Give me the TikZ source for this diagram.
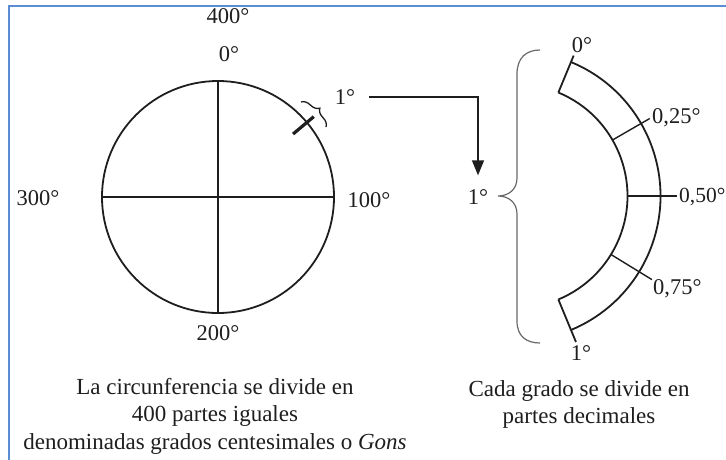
\documentclass[tikz,border=0pt]{standalone}
\usepackage{fontspec}
\setmainfont{Liberation Serif}
\usetikzlibrary{arrows.meta,decorations.pathreplacing}
\definecolor{frameblue}{RGB}{91,141,212}
\definecolor{bracegray}{RGB}{105,105,105}
\definecolor{inkgray}{RGB}{30,30,30}
\begin{document}
\begin{tikzpicture}[x=1pt,y=1pt,
  lbl/.style={inner sep=0pt, text=inkgray, font=\fontsize{22.5}{27}\selectfont},
  captext/.style={inner sep=0pt, align=center, text=inkgray, font=\fontsize{23}{27.5}\selectfont},
  thick line/.style={line width=1.8pt, draw=inkgray},
  thin line/.style={line width=1.4pt, draw=inkgray},
  ]
\useasboundingbox (0,0) rectangle (726,-459);
\fill[white] (0,0) rectangle (726,-459);
\draw[frameblue, line width=2pt] (9,-6) rectangle (745,-475);

% circle
\coordinate (O) at (218,-197);
\draw[thick line] (O) circle[radius=116];
\draw[thin line] ([xshift=-116pt]O) -- ([xshift=116pt]O);
\draw[thin line] ([yshift=115pt]O) -- ([yshift=-115pt]O);
\draw[line width=3.2pt, draw=inkgray] ([shift={(40:98)}]O) -- ([shift={(40:125)}]O);
\draw[line width=1.3pt, draw=inkgray, decorate, decoration={brace, amplitude=9pt}] (301,-102) -- (326,-127);

\node[lbl] (l400) at (228,-16) {400°};
\node[lbl] (l0) at (229,-54) {0°};
\node[lbl] (l300) at (38,-198) {300°};
\node[lbl] (l100) at (369,-200) {100°};
\node[lbl] (l200) at (218,-333) {200°};
\node[lbl] (l1a) at (345,-97) {1°};
\node[lbl] (l1b) at (478,-197) {1°};

\draw[thin line, -{Triangle[width=12pt,length=15pt]}] ([xshift=14pt]l1a.east) -| ([yshift=14pt]l1b.north);

% big brace
\draw[bracegray, line width=1.2pt] (540,-50) .. controls (526,-50) and (517,-58) .. (517,-74)
  -- (517,-178) .. controls (517,-190) and (508,-196) .. (498,-196)
  .. controls (508,-196) and (517,-202) .. (517,-214)
  -- (517,-321) .. controls (517,-336) and (526,-343) .. (540,-343);

% band
\coordinate (C) at (515.5,-196);
\draw[thick line] ([shift={(67.5:145)}]C) arc[start angle=67.5, end angle=-67.5, radius=145];
\draw[thick line] ([shift={(67.5:112)}]C) arc[start angle=67.5, end angle=-67.5, radius=112];
\draw[thick line] ([shift={(67.5:112)}]C) -- ([shift={(67.5:152)}]C);
\draw[thick line] ([shift={(-67.5:112)}]C) -- ([shift={(-67.5:158)}]C);
\draw[thin line] ([shift={(30:112)}]C) -- ([shift={(30:155)}]C);
\draw[thin line] ([shift={(0:112)}]C) -- ([shift={(0:161)}]C);
\draw[thin line] ([shift={(-31.5:112)}]C) -- ([shift={(-31.5:160)}]C);

\node[lbl] (b0) at (582,-45) {0°};
\node[lbl] (b1) at (581,-353) {1°};
\node[lbl, anchor=west] (q25) at (652,-118) {0,25°};
\node[lbl, anchor=west, font=\fontsize{21.5}{26}\selectfont] (q50) at (679,-197) {0,50°};
\node[lbl, anchor=west] (q75) at (653,-289) {0,75°};

% captions
\node[captext, anchor=north] (capL) at (215,-378) {La circunferencia se divide en\\400 partes iguales\\denominadas grados centesimales o \textit{Gons}};
\node[captext, anchor=north] (capR) at (579,-380) {Cada grado se divide en\\partes decimales};
\end{tikzpicture}
\end{document}
